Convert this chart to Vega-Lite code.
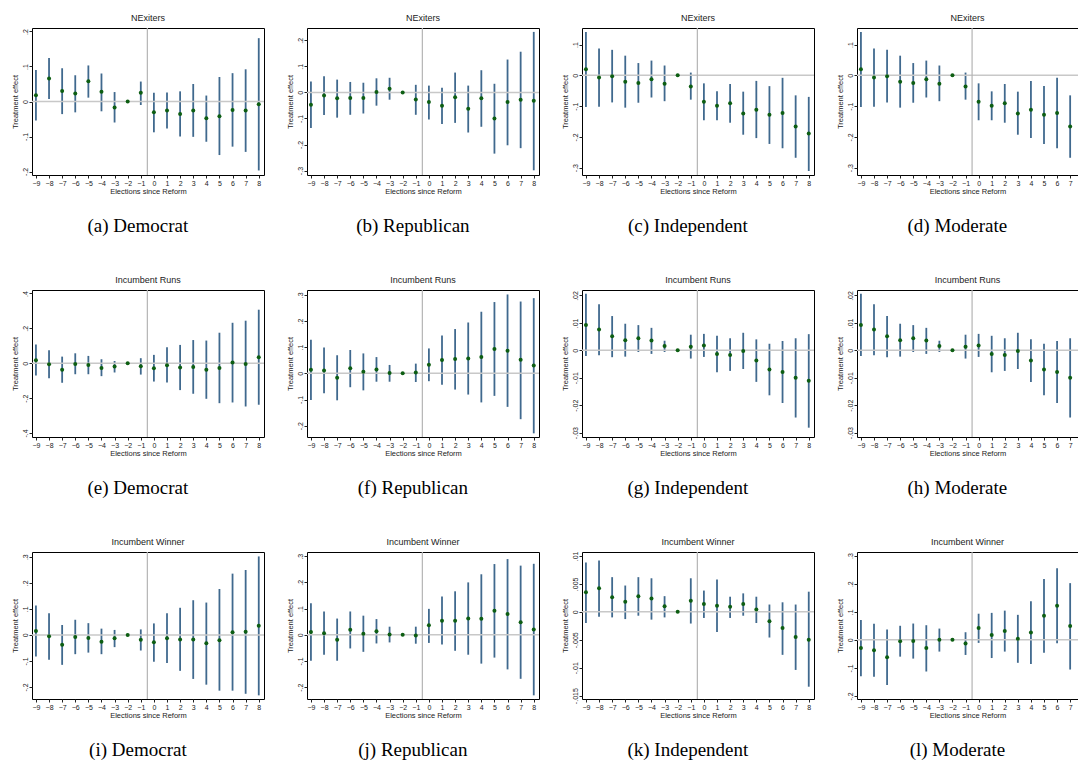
{
"$schema": "https://vega.github.io/schema/vega-lite/v6.json",
"padding": {"left": 10, "top": 13, "right": 0, "bottom": 0},
"spacing": 39,
"config": {
 "font": "Liberation Sans",
 "view": {"stroke": "#000", "strokeWidth": 1},
 "axis": {"grid": false, "domain": false, "labelFontSize": 7, "titleFontSize": 7.5, "titleFontWeight": "normal", "labelColor": "#222", "titleColor": "#222", "tickColor": "#222", "tickSize": 3, "labelPadding": 1, "titlePadding": 1, "labelFont": "Liberation Sans", "titleFont": "Liberation Sans", "labelOverlap": false, "tickCount": 50},
 "axisX": {"labelAngle": 0, "labelFlush": false},
 "axisY": {"labelAngle": 270, "titlePadding": 2},
 "title": {"fontSize": 9, "fontWeight": "normal", "color": "#222", "offset": 4, "font": "Liberation Sans"},
 "concat": {"spacing": 19}
},
"datasets": {"d": [
{"p":"a","t":-9,"b":0.018,"lo":-0.054,"hi":0.09},
{"p":"a","t":-8,"b":0.066,"lo":0.007,"hi":0.124},
{"p":"a","t":-7,"b":0.03,"lo":-0.036,"hi":0.095},
{"p":"a","t":-6,"b":0.023,"lo":-0.031,"hi":0.075},
{"p":"a","t":-5,"b":0.058,"lo":0.011,"hi":0.103},
{"p":"a","t":-4,"b":0.028,"lo":-0.028,"hi":0.08},
{"p":"a","t":-3,"b":-0.017,"lo":-0.06,"hi":0.027},
{"p":"a","t":-2,"b":0,"lo":0,"hi":0},
{"p":"a","t":-1,"b":0.025,"lo":-0.01,"hi":0.057},
{"p":"a","t":0,"b":-0.031,"lo":-0.088,"hi":0.025},
{"p":"a","t":1,"b":-0.026,"lo":-0.077,"hi":0.026},
{"p":"a","t":2,"b":-0.036,"lo":-0.1,"hi":0.029},
{"p":"a","t":3,"b":-0.026,"lo":-0.101,"hi":0.05},
{"p":"a","t":4,"b":-0.048,"lo":-0.115,"hi":0.017},
{"p":"a","t":5,"b":-0.042,"lo":-0.153,"hi":0.07},
{"p":"a","t":6,"b":-0.024,"lo":-0.129,"hi":0.081},
{"p":"a","t":7,"b":-0.026,"lo":-0.144,"hi":0.092},
{"p":"a","t":8,"b":-0.008,"lo":-0.197,"hi":0.181},
{"p":"b","t":-9,"b":-0.047,"lo":-0.137,"hi":0.042},
{"p":"b","t":-8,"b":-0.012,"lo":-0.087,"hi":0.062},
{"p":"b","t":-7,"b":-0.023,"lo":-0.097,"hi":0.049},
{"p":"b","t":-6,"b":-0.022,"lo":-0.086,"hi":0.04},
{"p":"b","t":-5,"b":-0.022,"lo":-0.081,"hi":0.037},
{"p":"b","t":-4,"b":0.001,"lo":-0.051,"hi":0.054},
{"p":"b","t":-3,"b":0.014,"lo":-0.028,"hi":0.056},
{"p":"b","t":-2,"b":0,"lo":0,"hi":0},
{"p":"b","t":-1,"b":-0.027,"lo":-0.086,"hi":0.029},
{"p":"b","t":0,"b":-0.037,"lo":-0.104,"hi":0.026},
{"p":"b","t":1,"b":-0.051,"lo":-0.121,"hi":0.018},
{"p":"b","t":2,"b":-0.019,"lo":-0.117,"hi":0.076},
{"p":"b","t":3,"b":-0.063,"lo":-0.154,"hi":0.026},
{"p":"b","t":4,"b":-0.023,"lo":-0.132,"hi":0.085},
{"p":"b","t":5,"b":-0.1,"lo":-0.235,"hi":0.033},
{"p":"b","t":6,"b":-0.037,"lo":-0.203,"hi":0.126},
{"p":"b","t":7,"b":-0.028,"lo":-0.214,"hi":0.156},
{"p":"b","t":8,"b":-0.032,"lo":-0.299,"hi":0.232},
{"p":"c","t":-9,"b":0.02,"lo":-0.103,"hi":0.141},
{"p":"c","t":-8,"b":-0.007,"lo":-0.102,"hi":0.087},
{"p":"c","t":-7,"b":-0.003,"lo":-0.088,"hi":0.083},
{"p":"c","t":-6,"b":-0.021,"lo":-0.105,"hi":0.064},
{"p":"c","t":-5,"b":-0.025,"lo":-0.089,"hi":0.04},
{"p":"c","t":-4,"b":-0.013,"lo":-0.072,"hi":0.048},
{"p":"c","t":-3,"b":-0.027,"lo":-0.084,"hi":0.032},
{"p":"c","t":-2,"b":0,"lo":0,"hi":0},
{"p":"c","t":-1,"b":-0.036,"lo":-0.079,"hi":0.009},
{"p":"c","t":0,"b":-0.086,"lo":-0.146,"hi":-0.026},
{"p":"c","t":1,"b":-0.099,"lo":-0.146,"hi":-0.052},
{"p":"c","t":2,"b":-0.091,"lo":-0.154,"hi":-0.028},
{"p":"c","t":3,"b":-0.124,"lo":-0.193,"hi":-0.053},
{"p":"c","t":4,"b":-0.112,"lo":-0.204,"hi":-0.018},
{"p":"c","t":5,"b":-0.128,"lo":-0.223,"hi":-0.035},
{"p":"c","t":6,"b":-0.122,"lo":-0.237,"hi":-0.008},
{"p":"c","t":7,"b":-0.166,"lo":-0.268,"hi":-0.065},
{"p":"c","t":8,"b":-0.189,"lo":-0.311,"hi":-0.07},
{"p":"d","t":-9,"b":0.02,"lo":-0.103,"hi":0.141},
{"p":"d","t":-8,"b":-0.007,"lo":-0.102,"hi":0.087},
{"p":"d","t":-7,"b":-0.003,"lo":-0.088,"hi":0.083},
{"p":"d","t":-6,"b":-0.021,"lo":-0.105,"hi":0.064},
{"p":"d","t":-5,"b":-0.025,"lo":-0.089,"hi":0.04},
{"p":"d","t":-4,"b":-0.013,"lo":-0.072,"hi":0.048},
{"p":"d","t":-3,"b":-0.027,"lo":-0.084,"hi":0.032},
{"p":"d","t":-2,"b":0,"lo":0,"hi":0},
{"p":"d","t":-1,"b":-0.036,"lo":-0.079,"hi":0.009},
{"p":"d","t":0,"b":-0.086,"lo":-0.146,"hi":-0.026},
{"p":"d","t":1,"b":-0.099,"lo":-0.146,"hi":-0.052},
{"p":"d","t":2,"b":-0.091,"lo":-0.154,"hi":-0.028},
{"p":"d","t":3,"b":-0.124,"lo":-0.193,"hi":-0.053},
{"p":"d","t":4,"b":-0.112,"lo":-0.204,"hi":-0.018},
{"p":"d","t":5,"b":-0.128,"lo":-0.223,"hi":-0.035},
{"p":"d","t":6,"b":-0.122,"lo":-0.237,"hi":-0.008},
{"p":"d","t":7,"b":-0.166,"lo":-0.268,"hi":-0.065},
{"p":"e","t":-9,"b":0.017,"lo":-0.07,"hi":0.107},
{"p":"e","t":-8,"b":-0.006,"lo":-0.086,"hi":0.074},
{"p":"e","t":-7,"b":-0.038,"lo":-0.112,"hi":0.038},
{"p":"e","t":-6,"b":-0.004,"lo":-0.063,"hi":0.057},
{"p":"e","t":-5,"b":-0.01,"lo":-0.063,"hi":0.042},
{"p":"e","t":-4,"b":-0.027,"lo":-0.074,"hi":0.023},
{"p":"e","t":-3,"b":-0.019,"lo":-0.053,"hi":0.013},
{"p":"e","t":-2,"b":0,"lo":0,"hi":0},
{"p":"e","t":-1,"b":-0.017,"lo":-0.065,"hi":0.029},
{"p":"e","t":0,"b":-0.029,"lo":-0.105,"hi":0.048},
{"p":"e","t":1,"b":-0.011,"lo":-0.11,"hi":0.091},
{"p":"e","t":2,"b":-0.025,"lo":-0.154,"hi":0.105},
{"p":"e","t":3,"b":-0.021,"lo":-0.175,"hi":0.133},
{"p":"e","t":4,"b":-0.038,"lo":-0.204,"hi":0.13},
{"p":"e","t":5,"b":-0.027,"lo":-0.229,"hi":0.175},
{"p":"e","t":6,"b":0.004,"lo":-0.225,"hi":0.232},
{"p":"e","t":7,"b":-0.004,"lo":-0.248,"hi":0.244},
{"p":"e","t":8,"b":0.034,"lo":-0.238,"hi":0.307},
{"p":"f","t":-9,"b":0.014,"lo":-0.102,"hi":0.128},
{"p":"f","t":-8,"b":0.011,"lo":-0.076,"hi":0.099},
{"p":"f","t":-7,"b":-0.017,"lo":-0.103,"hi":0.069},
{"p":"f","t":-6,"b":0.019,"lo":-0.053,"hi":0.089},
{"p":"f","t":-5,"b":0.006,"lo":-0.065,"hi":0.076},
{"p":"f","t":-4,"b":0.015,"lo":-0.032,"hi":0.062},
{"p":"f","t":-3,"b":0.001,"lo":-0.032,"hi":0.032},
{"p":"f","t":-2,"b":0,"lo":0,"hi":0},
{"p":"f","t":-1,"b":0.003,"lo":-0.033,"hi":0.037},
{"p":"f","t":0,"b":0.033,"lo":-0.03,"hi":0.095},
{"p":"f","t":1,"b":0.051,"lo":-0.044,"hi":0.144},
{"p":"f","t":2,"b":0.055,"lo":-0.062,"hi":0.169},
{"p":"f","t":3,"b":0.057,"lo":-0.081,"hi":0.194},
{"p":"f","t":4,"b":0.062,"lo":-0.111,"hi":0.235},
{"p":"f","t":5,"b":0.093,"lo":-0.086,"hi":0.272},
{"p":"f","t":6,"b":0.086,"lo":-0.128,"hi":0.301},
{"p":"f","t":7,"b":0.052,"lo":-0.175,"hi":0.274},
{"p":"f","t":8,"b":0.03,"lo":-0.229,"hi":0.287},
{"p":"g","t":-9,"b":0.0092,"lo":-0.0021,"hi":0.0206},
{"p":"g","t":-8,"b":0.0076,"lo":-0.0018,"hi":0.0168},
{"p":"g","t":-7,"b":0.0051,"lo":-0.0025,"hi":0.0125},
{"p":"g","t":-6,"b":0.0037,"lo":-0.0023,"hi":0.0097},
{"p":"g","t":-5,"b":0.0044,"lo":-0.0006,"hi":0.0092},
{"p":"g","t":-4,"b":0.0036,"lo":-0.0013,"hi":0.0082},
{"p":"g","t":-3,"b":0.0016,"lo":-0.0006,"hi":0.0035},
{"p":"g","t":-2,"b":0,"lo":0,"hi":0},
{"p":"g","t":-1,"b":0.0013,"lo":-0.003,"hi":0.0057},
{"p":"g","t":0,"b":0.0018,"lo":-0.0024,"hi":0.006},
{"p":"g","t":1,"b":-0.0013,"lo":-0.008,"hi":0.0053},
{"p":"g","t":2,"b":-0.0017,"lo":-0.0075,"hi":0.0044},
{"p":"g","t":3,"b":-0.0002,"lo":-0.0068,"hi":0.0064},
{"p":"g","t":4,"b":-0.0037,"lo":-0.0115,"hi":0.004},
{"p":"g","t":5,"b":-0.007,"lo":-0.0164,"hi":0.0024},
{"p":"g","t":6,"b":-0.0079,"lo":-0.0192,"hi":0.0034},
{"p":"g","t":7,"b":-0.01,"lo":-0.0245,"hi":0.0044},
{"p":"g","t":8,"b":-0.0111,"lo":-0.0282,"hi":0.0059},
{"p":"h","t":-9,"b":0.0092,"lo":-0.0021,"hi":0.0206},
{"p":"h","t":-8,"b":0.0076,"lo":-0.0018,"hi":0.0168},
{"p":"h","t":-7,"b":0.0051,"lo":-0.0025,"hi":0.0125},
{"p":"h","t":-6,"b":0.0037,"lo":-0.0023,"hi":0.0097},
{"p":"h","t":-5,"b":0.0044,"lo":-0.0006,"hi":0.0092},
{"p":"h","t":-4,"b":0.0036,"lo":-0.0013,"hi":0.0082},
{"p":"h","t":-3,"b":0.0016,"lo":-0.0006,"hi":0.0035},
{"p":"h","t":-2,"b":0,"lo":0,"hi":0},
{"p":"h","t":-1,"b":0.0013,"lo":-0.003,"hi":0.0057},
{"p":"h","t":0,"b":0.0018,"lo":-0.0024,"hi":0.006},
{"p":"h","t":1,"b":-0.0013,"lo":-0.008,"hi":0.0053},
{"p":"h","t":2,"b":-0.0017,"lo":-0.0075,"hi":0.0044},
{"p":"h","t":3,"b":-0.0002,"lo":-0.0068,"hi":0.0064},
{"p":"h","t":4,"b":-0.0037,"lo":-0.0115,"hi":0.004},
{"p":"h","t":5,"b":-0.007,"lo":-0.0164,"hi":0.0024},
{"p":"h","t":6,"b":-0.0079,"lo":-0.0192,"hi":0.0034},
{"p":"h","t":7,"b":-0.01,"lo":-0.0245,"hi":0.0044},
{"p":"i","t":-9,"b":0.015,"lo":-0.083,"hi":0.113},
{"p":"i","t":-8,"b":-0.005,"lo":-0.095,"hi":0.083},
{"p":"i","t":-7,"b":-0.038,"lo":-0.115,"hi":0.038},
{"p":"i","t":-6,"b":-0.008,"lo":-0.074,"hi":0.058},
{"p":"i","t":-5,"b":-0.012,"lo":-0.068,"hi":0.045},
{"p":"i","t":-4,"b":-0.026,"lo":-0.074,"hi":0.024},
{"p":"i","t":-3,"b":-0.013,"lo":-0.047,"hi":0.019},
{"p":"i","t":-2,"b":0,"lo":0,"hi":0},
{"p":"i","t":-1,"b":-0.019,"lo":-0.06,"hi":0.021},
{"p":"i","t":0,"b":-0.028,"lo":-0.103,"hi":0.044},
{"p":"i","t":1,"b":-0.013,"lo":-0.108,"hi":0.083},
{"p":"i","t":2,"b":-0.018,"lo":-0.138,"hi":0.104},
{"p":"i","t":3,"b":-0.018,"lo":-0.169,"hi":0.133},
{"p":"i","t":4,"b":-0.032,"lo":-0.191,"hi":0.124},
{"p":"i","t":5,"b":-0.021,"lo":-0.214,"hi":0.176},
{"p":"i","t":6,"b":0.01,"lo":-0.214,"hi":0.235},
{"p":"i","t":7,"b":0.012,"lo":-0.226,"hi":0.249},
{"p":"i","t":8,"b":0.035,"lo":-0.232,"hi":0.301},
{"p":"j","t":-9,"b":0.011,"lo":-0.099,"hi":0.12},
{"p":"j","t":-8,"b":0.006,"lo":-0.076,"hi":0.089},
{"p":"j","t":-7,"b":-0.019,"lo":-0.099,"hi":0.062},
{"p":"j","t":-6,"b":0.019,"lo":-0.052,"hi":0.089},
{"p":"j","t":-5,"b":0.004,"lo":-0.065,"hi":0.073},
{"p":"j","t":-4,"b":0.014,"lo":-0.033,"hi":0.06},
{"p":"j","t":-3,"b":0.001,"lo":-0.029,"hi":0.031},
{"p":"j","t":-2,"b":0,"lo":0,"hi":0},
{"p":"j","t":-1,"b":-0.003,"lo":-0.034,"hi":0.031},
{"p":"j","t":0,"b":0.036,"lo":-0.031,"hi":0.099},
{"p":"j","t":1,"b":0.054,"lo":-0.037,"hi":0.146},
{"p":"j","t":2,"b":0.054,"lo":-0.061,"hi":0.166},
{"p":"j","t":3,"b":0.062,"lo":-0.076,"hi":0.2},
{"p":"j","t":4,"b":0.061,"lo":-0.11,"hi":0.231},
{"p":"j","t":5,"b":0.092,"lo":-0.087,"hi":0.27},
{"p":"j","t":6,"b":0.079,"lo":-0.132,"hi":0.289},
{"p":"j","t":7,"b":0.048,"lo":-0.168,"hi":0.264},
{"p":"j","t":8,"b":0.02,"lo":-0.231,"hi":0.271},
{"p":"k","t":-9,"b":0.0035,"lo":-0.002,"hi":0.0088},
{"p":"k","t":-8,"b":0.0042,"lo":-0.0009,"hi":0.0092},
{"p":"k","t":-7,"b":0.0026,"lo":-0.001,"hi":0.0062},
{"p":"k","t":-6,"b":0.0018,"lo":-0.0013,"hi":0.0047},
{"p":"k","t":-5,"b":0.0028,"lo":-0.0007,"hi":0.0062},
{"p":"k","t":-4,"b":0.0024,"lo":-0.0014,"hi":0.006},
{"p":"k","t":-3,"b":0.001,"lo":-0.001,"hi":0.0028},
{"p":"k","t":-2,"b":0,"lo":0,"hi":0},
{"p":"k","t":-1,"b":0.002,"lo":-0.0021,"hi":0.006},
{"p":"k","t":0,"b":0.0014,"lo":-0.0011,"hi":0.0038},
{"p":"k","t":1,"b":0.0011,"lo":-0.0036,"hi":0.0058},
{"p":"k","t":2,"b":0.0009,"lo":-0.0011,"hi":0.0027},
{"p":"k","t":3,"b":0.0014,"lo":-0.0007,"hi":0.0033},
{"p":"k","t":4,"b":0.0004,"lo":-0.002,"hi":0.0027},
{"p":"k","t":5,"b":-0.0017,"lo":-0.0046,"hi":0.0013},
{"p":"k","t":6,"b":-0.0029,"lo":-0.0077,"hi":0.0017},
{"p":"k","t":7,"b":-0.0045,"lo":-0.0104,"hi":0.0013},
{"p":"k","t":8,"b":-0.005,"lo":-0.0134,"hi":0.0036},
{"p":"l","t":-9,"b":-0.029,"lo":-0.13,"hi":0.071},
{"p":"l","t":-8,"b":-0.037,"lo":-0.132,"hi":0.057},
{"p":"l","t":-7,"b":-0.062,"lo":-0.161,"hi":0.037},
{"p":"l","t":-6,"b":-0.005,"lo":-0.06,"hi":0.05},
{"p":"l","t":-5,"b":-0.004,"lo":-0.067,"hi":0.058},
{"p":"l","t":-4,"b":-0.029,"lo":-0.113,"hi":0.052},
{"p":"l","t":-3,"b":0,"lo":-0.042,"hi":0.04},
{"p":"l","t":-2,"b":0,"lo":0,"hi":0},
{"p":"l","t":-1,"b":-0.013,"lo":-0.054,"hi":0.027},
{"p":"l","t":0,"b":0.042,"lo":-0.011,"hi":0.093},
{"p":"l","t":1,"b":0.017,"lo":-0.065,"hi":0.096},
{"p":"l","t":2,"b":0.031,"lo":-0.042,"hi":0.104},
{"p":"l","t":3,"b":0.004,"lo":-0.082,"hi":0.089},
{"p":"l","t":4,"b":0.026,"lo":-0.086,"hi":0.137},
{"p":"l","t":5,"b":0.086,"lo":-0.046,"hi":0.217},
{"p":"l","t":6,"b":0.121,"lo":-0.012,"hi":0.255},
{"p":"l","t":7,"b":0.049,"lo":-0.106,"hi":0.202}
]},
"vconcat": [
{"spacing": 19, "hconcat": [
{"title": {"text": "(a) Democrat", "orient": "bottom", "anchor": "middle", "frame": "bounds", "font": "Liberation Serif", "fontSize": 19, "color": "#000", "offset": 22},
 "vconcat": [{"title": {"text": "NExiters", "frame": "group", "anchor": "middle"}, "width": 232, "height": 147,
 "layer": [
  {"data": {"name": "d"}, "transform": [{"filter": "datum.p == 'a'"}], "mark": {"type": "rule", "color": "#1f4f7a", "strokeWidth": 1.8, "opacity": 0.85},
   "encoding": {"x": {"field": "t", "type": "quantitative", "title": "Elections since Reform", "scale": {"domain": [-9.3, 8.4], "nice": false, "zero": false}, "axis": {"values": [-9,-8,-7,-6,-5,-4,-3,-2,-1,0,1,2,3,4,5,6,7,8], "format": "d", "tickCount": 50, "labelOverlap": false}},
    "y": {"field": "lo", "type": "quantitative", "title": "Treatment effect", "scale": {"domain": [-0.21, 0.21], "nice": false, "zero": false}, "axis": {"values": [-0.2,-0.1,0,0.1,0.2], "tickCount": 50, "labelOverlap": false, "labelExpr": "replace(toString(datum.value), '0.', '.')"}},
    "y2": {"field": "hi"}}},
  {"data": {"values": [{}]}, "mark": {"type": "rule", "color": "#c8c8c8", "strokeWidth": 1.5}, "encoding": {"y": {"datum": 0}}},
  {"data": {"values": [{}]}, "mark": {"type": "rule", "color": "#b4b4b4", "strokeWidth": 1.2}, "encoding": {"x": {"datum": -0.5}}},
  {"data": {"name": "d"}, "transform": [{"filter": "datum.p == 'a'"}], "mark": {"type": "point", "filled": true, "size": 16, "color": "#0d5e12", "opacity": 1},
   "encoding": {"x": {"field": "t", "type": "quantitative"}, "y": {"field": "b", "type": "quantitative"}}}
 ]}]},
{"title": {"text": "(b) Republican", "orient": "bottom", "anchor": "middle", "frame": "bounds", "font": "Liberation Serif", "fontSize": 19, "color": "#000", "offset": 22},
 "vconcat": [{"title": {"text": "NExiters", "frame": "group", "anchor": "middle"}, "width": 232, "height": 147,
 "layer": [
  {"data": {"name": "d"}, "transform": [{"filter": "datum.p == 'b'"}], "mark": {"type": "rule", "color": "#1f4f7a", "strokeWidth": 1.8, "opacity": 0.85},
   "encoding": {"x": {"field": "t", "type": "quantitative", "title": "Elections since Reform", "scale": {"domain": [-9.3, 8.4], "nice": false, "zero": false}, "axis": {"values": [-9,-8,-7,-6,-5,-4,-3,-2,-1,0,1,2,3,4,5,6,7,8], "format": "d", "tickCount": 50, "labelOverlap": false}},
    "y": {"field": "lo", "type": "quantitative", "title": "Treatment effect", "scale": {"domain": [-0.317, 0.247], "nice": false, "zero": false}, "axis": {"values": [-0.3,-0.2,-0.1,0,0.1,0.2], "tickCount": 50, "labelOverlap": false, "labelExpr": "replace(toString(datum.value), '0.', '.')"}},
    "y2": {"field": "hi"}}},
  {"data": {"values": [{}]}, "mark": {"type": "rule", "color": "#c8c8c8", "strokeWidth": 1.5}, "encoding": {"y": {"datum": 0}}},
  {"data": {"values": [{}]}, "mark": {"type": "rule", "color": "#b4b4b4", "strokeWidth": 1.2}, "encoding": {"x": {"datum": -0.5}}},
  {"data": {"name": "d"}, "transform": [{"filter": "datum.p == 'b'"}], "mark": {"type": "point", "filled": true, "size": 16, "color": "#0d5e12", "opacity": 1},
   "encoding": {"x": {"field": "t", "type": "quantitative"}, "y": {"field": "b", "type": "quantitative"}}}
 ]}]},
{"title": {"text": "(c) Independent", "orient": "bottom", "anchor": "middle", "frame": "bounds", "font": "Liberation Serif", "fontSize": 19, "color": "#000", "offset": 22},
 "vconcat": [{"title": {"text": "NExiters", "frame": "group", "anchor": "middle"}, "width": 232, "height": 147,
 "layer": [
  {"data": {"name": "d"}, "transform": [{"filter": "datum.p == 'c'"}], "mark": {"type": "rule", "color": "#1f4f7a", "strokeWidth": 1.8, "opacity": 0.85},
   "encoding": {"x": {"field": "t", "type": "quantitative", "title": "Elections since Reform", "scale": {"domain": [-9.3, 8.4], "nice": false, "zero": false}, "axis": {"values": [-9,-8,-7,-6,-5,-4,-3,-2,-1,0,1,2,3,4,5,6,7,8], "format": "d", "tickCount": 50, "labelOverlap": false}},
    "y": {"field": "lo", "type": "quantitative", "title": "Treatment effect", "scale": {"domain": [-0.324, 0.154], "nice": false, "zero": false}, "axis": {"values": [-0.3,-0.2,-0.1,0,0.1], "tickCount": 50, "labelOverlap": false, "labelExpr": "replace(toString(datum.value), '0.', '.')"}},
    "y2": {"field": "hi"}}},
  {"data": {"values": [{}]}, "mark": {"type": "rule", "color": "#c8c8c8", "strokeWidth": 1.5}, "encoding": {"y": {"datum": 0}}},
  {"data": {"values": [{}]}, "mark": {"type": "rule", "color": "#b4b4b4", "strokeWidth": 1.2}, "encoding": {"x": {"datum": -0.5}}},
  {"data": {"name": "d"}, "transform": [{"filter": "datum.p == 'c'"}], "mark": {"type": "point", "filled": true, "size": 16, "color": "#0d5e12", "opacity": 1},
   "encoding": {"x": {"field": "t", "type": "quantitative"}, "y": {"field": "b", "type": "quantitative"}}}
 ]}]},
{"title": {"text": "(d) Moderate", "orient": "bottom", "anchor": "middle", "frame": "bounds", "font": "Liberation Serif", "fontSize": 19, "color": "#000", "offset": 22},
 "vconcat": [{"title": {"text": "NExiters", "frame": "group", "anchor": "middle"}, "width": 221, "height": 147,
 "layer": [
  {"data": {"name": "d"}, "transform": [{"filter": "datum.p == 'd'"}], "mark": {"type": "rule", "color": "#1f4f7a", "strokeWidth": 1.8, "opacity": 0.85},
   "encoding": {"x": {"field": "t", "type": "quantitative", "title": "Elections since Reform", "scale": {"domain": [-9.3, 7.6], "nice": false, "zero": false}, "axis": {"values": [-9,-8,-7,-6,-5,-4,-3,-2,-1,0,1,2,3,4,5,6,7], "format": "d", "tickCount": 50, "labelOverlap": false}},
    "y": {"field": "lo", "type": "quantitative", "title": "Treatment effect", "scale": {"domain": [-0.324, 0.154], "nice": false, "zero": false}, "axis": {"values": [-0.3,-0.2,-0.1,0,0.1], "tickCount": 50, "labelOverlap": false, "labelExpr": "replace(toString(datum.value), '0.', '.')"}},
    "y2": {"field": "hi"}}},
  {"data": {"values": [{}]}, "mark": {"type": "rule", "color": "#c8c8c8", "strokeWidth": 1.5}, "encoding": {"y": {"datum": 0}}},
  {"data": {"values": [{}]}, "mark": {"type": "rule", "color": "#b4b4b4", "strokeWidth": 1.2}, "encoding": {"x": {"datum": -0.5}}},
  {"data": {"name": "d"}, "transform": [{"filter": "datum.p == 'd'"}], "mark": {"type": "point", "filled": true, "size": 16, "color": "#0d5e12", "opacity": 1},
   "encoding": {"x": {"field": "t", "type": "quantitative"}, "y": {"field": "b", "type": "quantitative"}}}
 ]}]}
]},
{"spacing": 19, "hconcat": [
{"title": {"text": "(e) Democrat", "orient": "bottom", "anchor": "middle", "frame": "bounds", "font": "Liberation Serif", "fontSize": 19, "color": "#000", "offset": 22},
 "vconcat": [{"title": {"text": "Incumbent Runs", "frame": "group", "anchor": "middle"}, "width": 232, "height": 147,
 "layer": [
  {"data": {"name": "d"}, "transform": [{"filter": "datum.p == 'e'"}], "mark": {"type": "rule", "color": "#1f4f7a", "strokeWidth": 1.8, "opacity": 0.85},
   "encoding": {"x": {"field": "t", "type": "quantitative", "title": "Elections since Reform", "scale": {"domain": [-9.3, 8.4], "nice": false, "zero": false}, "axis": {"values": [-9,-8,-7,-6,-5,-4,-3,-2,-1,0,1,2,3,4,5,6,7,8], "format": "d", "tickCount": 50, "labelOverlap": false}},
    "y": {"field": "lo", "type": "quantitative", "title": "Treatment effect", "scale": {"domain": [-0.423, 0.42], "nice": false, "zero": false}, "axis": {"values": [-0.4,-0.2,0,0.2,0.4], "tickCount": 50, "labelOverlap": false, "labelExpr": "replace(toString(datum.value), '0.', '.')"}},
    "y2": {"field": "hi"}}},
  {"data": {"values": [{}]}, "mark": {"type": "rule", "color": "#c8c8c8", "strokeWidth": 1.5}, "encoding": {"y": {"datum": 0}}},
  {"data": {"values": [{}]}, "mark": {"type": "rule", "color": "#b4b4b4", "strokeWidth": 1.2}, "encoding": {"x": {"datum": -0.5}}},
  {"data": {"name": "d"}, "transform": [{"filter": "datum.p == 'e'"}], "mark": {"type": "point", "filled": true, "size": 16, "color": "#0d5e12", "opacity": 1},
   "encoding": {"x": {"field": "t", "type": "quantitative"}, "y": {"field": "b", "type": "quantitative"}}}
 ]}]},
{"title": {"text": "(f) Republican", "orient": "bottom", "anchor": "middle", "frame": "bounds", "font": "Liberation Serif", "fontSize": 19, "color": "#000", "offset": 22},
 "vconcat": [{"title": {"text": "Incumbent Runs", "frame": "group", "anchor": "middle"}, "width": 232, "height": 147,
 "layer": [
  {"data": {"name": "d"}, "transform": [{"filter": "datum.p == 'f'"}], "mark": {"type": "rule", "color": "#1f4f7a", "strokeWidth": 1.8, "opacity": 0.85},
   "encoding": {"x": {"field": "t", "type": "quantitative", "title": "Elections since Reform", "scale": {"domain": [-9.3, 8.4], "nice": false, "zero": false}, "axis": {"values": [-9,-8,-7,-6,-5,-4,-3,-2,-1,0,1,2,3,4,5,6,7,8], "format": "d", "tickCount": 50, "labelOverlap": false}},
    "y": {"field": "lo", "type": "quantitative", "title": "Treatment effect", "scale": {"domain": [-0.243, 0.318], "nice": false, "zero": false}, "axis": {"values": [-0.2,-0.1,0,0.1,0.2,0.3], "tickCount": 50, "labelOverlap": false, "labelExpr": "replace(toString(datum.value), '0.', '.')"}},
    "y2": {"field": "hi"}}},
  {"data": {"values": [{}]}, "mark": {"type": "rule", "color": "#c8c8c8", "strokeWidth": 1.5}, "encoding": {"y": {"datum": 0}}},
  {"data": {"values": [{}]}, "mark": {"type": "rule", "color": "#b4b4b4", "strokeWidth": 1.2}, "encoding": {"x": {"datum": -0.5}}},
  {"data": {"name": "d"}, "transform": [{"filter": "datum.p == 'f'"}], "mark": {"type": "point", "filled": true, "size": 16, "color": "#0d5e12", "opacity": 1},
   "encoding": {"x": {"field": "t", "type": "quantitative"}, "y": {"field": "b", "type": "quantitative"}}}
 ]}]},
{"title": {"text": "(g) Independent", "orient": "bottom", "anchor": "middle", "frame": "bounds", "font": "Liberation Serif", "fontSize": 19, "color": "#000", "offset": 22},
 "vconcat": [{"title": {"text": "Incumbent Runs", "frame": "group", "anchor": "middle"}, "width": 232, "height": 147,
 "layer": [
  {"data": {"name": "d"}, "transform": [{"filter": "datum.p == 'g'"}], "mark": {"type": "rule", "color": "#1f4f7a", "strokeWidth": 1.8, "opacity": 0.85},
   "encoding": {"x": {"field": "t", "type": "quantitative", "title": "Elections since Reform", "scale": {"domain": [-9.3, 8.4], "nice": false, "zero": false}, "axis": {"values": [-9,-8,-7,-6,-5,-4,-3,-2,-1,0,1,2,3,4,5,6,7,8], "format": "d", "tickCount": 50, "labelOverlap": false}},
    "y": {"field": "lo", "type": "quantitative", "title": "Treatment effect", "scale": {"domain": [-0.0316, 0.022], "nice": false, "zero": false}, "axis": {"values": [-0.03,-0.02,-0.01,0,0.01,0.02], "tickCount": 50, "labelOverlap": false, "labelExpr": "replace(toString(datum.value), '0.', '.')"}},
    "y2": {"field": "hi"}}},
  {"data": {"values": [{}]}, "mark": {"type": "rule", "color": "#c8c8c8", "strokeWidth": 1.5}, "encoding": {"y": {"datum": 0}}},
  {"data": {"values": [{}]}, "mark": {"type": "rule", "color": "#b4b4b4", "strokeWidth": 1.2}, "encoding": {"x": {"datum": -0.5}}},
  {"data": {"name": "d"}, "transform": [{"filter": "datum.p == 'g'"}], "mark": {"type": "point", "filled": true, "size": 16, "color": "#0d5e12", "opacity": 1},
   "encoding": {"x": {"field": "t", "type": "quantitative"}, "y": {"field": "b", "type": "quantitative"}}}
 ]}]},
{"title": {"text": "(h) Moderate", "orient": "bottom", "anchor": "middle", "frame": "bounds", "font": "Liberation Serif", "fontSize": 19, "color": "#000", "offset": 22},
 "vconcat": [{"title": {"text": "Incumbent Runs", "frame": "group", "anchor": "middle"}, "width": 221, "height": 147,
 "layer": [
  {"data": {"name": "d"}, "transform": [{"filter": "datum.p == 'h'"}], "mark": {"type": "rule", "color": "#1f4f7a", "strokeWidth": 1.8, "opacity": 0.85},
   "encoding": {"x": {"field": "t", "type": "quantitative", "title": "Elections since Reform", "scale": {"domain": [-9.3, 7.6], "nice": false, "zero": false}, "axis": {"values": [-9,-8,-7,-6,-5,-4,-3,-2,-1,0,1,2,3,4,5,6,7], "format": "d", "tickCount": 50, "labelOverlap": false}},
    "y": {"field": "lo", "type": "quantitative", "title": "Treatment effect", "scale": {"domain": [-0.0316, 0.022], "nice": false, "zero": false}, "axis": {"values": [-0.03,-0.02,-0.01,0,0.01,0.02], "tickCount": 50, "labelOverlap": false, "labelExpr": "replace(toString(datum.value), '0.', '.')"}},
    "y2": {"field": "hi"}}},
  {"data": {"values": [{}]}, "mark": {"type": "rule", "color": "#c8c8c8", "strokeWidth": 1.5}, "encoding": {"y": {"datum": 0}}},
  {"data": {"values": [{}]}, "mark": {"type": "rule", "color": "#b4b4b4", "strokeWidth": 1.2}, "encoding": {"x": {"datum": -0.5}}},
  {"data": {"name": "d"}, "transform": [{"filter": "datum.p == 'h'"}], "mark": {"type": "point", "filled": true, "size": 16, "color": "#0d5e12", "opacity": 1},
   "encoding": {"x": {"field": "t", "type": "quantitative"}, "y": {"field": "b", "type": "quantitative"}}}
 ]}]}
]},
{"spacing": 19, "hconcat": [
{"title": {"text": "(i) Democrat", "orient": "bottom", "anchor": "middle", "frame": "bounds", "font": "Liberation Serif", "fontSize": 19, "color": "#000", "offset": 22},
 "vconcat": [{"title": {"text": "Incumbent Winner", "frame": "group", "anchor": "middle"}, "width": 232, "height": 147,
 "layer": [
  {"data": {"name": "d"}, "transform": [{"filter": "datum.p == 'i'"}], "mark": {"type": "rule", "color": "#1f4f7a", "strokeWidth": 1.8, "opacity": 0.85},
   "encoding": {"x": {"field": "t", "type": "quantitative", "title": "Elections since Reform", "scale": {"domain": [-9.3, 8.4], "nice": false, "zero": false}, "axis": {"values": [-9,-8,-7,-6,-5,-4,-3,-2,-1,0,1,2,3,4,5,6,7,8], "format": "d", "tickCount": 50, "labelOverlap": false}},
    "y": {"field": "lo", "type": "quantitative", "title": "Treatment effect", "scale": {"domain": [-0.246, 0.318], "nice": false, "zero": false}, "axis": {"values": [-0.2,-0.1,0,0.1,0.2,0.3], "tickCount": 50, "labelOverlap": false, "labelExpr": "replace(toString(datum.value), '0.', '.')"}},
    "y2": {"field": "hi"}}},
  {"data": {"values": [{}]}, "mark": {"type": "rule", "color": "#c8c8c8", "strokeWidth": 1.5}, "encoding": {"y": {"datum": 0}}},
  {"data": {"values": [{}]}, "mark": {"type": "rule", "color": "#b4b4b4", "strokeWidth": 1.2}, "encoding": {"x": {"datum": -0.5}}},
  {"data": {"name": "d"}, "transform": [{"filter": "datum.p == 'i'"}], "mark": {"type": "point", "filled": true, "size": 16, "color": "#0d5e12", "opacity": 1},
   "encoding": {"x": {"field": "t", "type": "quantitative"}, "y": {"field": "b", "type": "quantitative"}}}
 ]}]},
{"title": {"text": "(j) Republican", "orient": "bottom", "anchor": "middle", "frame": "bounds", "font": "Liberation Serif", "fontSize": 19, "color": "#000", "offset": 22},
 "vconcat": [{"title": {"text": "Incumbent Winner", "frame": "group", "anchor": "middle"}, "width": 232, "height": 147,
 "layer": [
  {"data": {"name": "d"}, "transform": [{"filter": "datum.p == 'j'"}], "mark": {"type": "rule", "color": "#1f4f7a", "strokeWidth": 1.8, "opacity": 0.85},
   "encoding": {"x": {"field": "t", "type": "quantitative", "title": "Elections since Reform", "scale": {"domain": [-9.3, 8.4], "nice": false, "zero": false}, "axis": {"values": [-9,-8,-7,-6,-5,-4,-3,-2,-1,0,1,2,3,4,5,6,7,8], "format": "d", "tickCount": 50, "labelOverlap": false}},
    "y": {"field": "lo", "type": "quantitative", "title": "Treatment effect", "scale": {"domain": [-0.245, 0.316], "nice": false, "zero": false}, "axis": {"values": [-0.2,-0.1,0,0.1,0.2,0.3], "tickCount": 50, "labelOverlap": false, "labelExpr": "replace(toString(datum.value), '0.', '.')"}},
    "y2": {"field": "hi"}}},
  {"data": {"values": [{}]}, "mark": {"type": "rule", "color": "#c8c8c8", "strokeWidth": 1.5}, "encoding": {"y": {"datum": 0}}},
  {"data": {"values": [{}]}, "mark": {"type": "rule", "color": "#b4b4b4", "strokeWidth": 1.2}, "encoding": {"x": {"datum": -0.5}}},
  {"data": {"name": "d"}, "transform": [{"filter": "datum.p == 'j'"}], "mark": {"type": "point", "filled": true, "size": 16, "color": "#0d5e12", "opacity": 1},
   "encoding": {"x": {"field": "t", "type": "quantitative"}, "y": {"field": "b", "type": "quantitative"}}}
 ]}]},
{"title": {"text": "(k) Independent", "orient": "bottom", "anchor": "middle", "frame": "bounds", "font": "Liberation Serif", "fontSize": 19, "color": "#000", "offset": 22},
 "vconcat": [{"title": {"text": "Incumbent Winner", "frame": "group", "anchor": "middle"}, "width": 232, "height": 147,
 "layer": [
  {"data": {"name": "d"}, "transform": [{"filter": "datum.p == 'k'"}], "mark": {"type": "rule", "color": "#1f4f7a", "strokeWidth": 1.8, "opacity": 0.85},
   "encoding": {"x": {"field": "t", "type": "quantitative", "title": "Elections since Reform", "scale": {"domain": [-9.3, 8.4], "nice": false, "zero": false}, "axis": {"values": [-9,-8,-7,-6,-5,-4,-3,-2,-1,0,1,2,3,4,5,6,7,8], "format": "d", "tickCount": 50, "labelOverlap": false}},
    "y": {"field": "lo", "type": "quantitative", "title": "Treatment effect", "scale": {"domain": [-0.0156, 0.0107], "nice": false, "zero": false}, "axis": {"values": [-0.015,-0.01,-0.005,0,0.005,0.01], "tickCount": 50, "labelOverlap": false, "labelExpr": "replace(toString(datum.value), '0.', '.')"}},
    "y2": {"field": "hi"}}},
  {"data": {"values": [{}]}, "mark": {"type": "rule", "color": "#c8c8c8", "strokeWidth": 1.5}, "encoding": {"y": {"datum": 0}}},
  {"data": {"values": [{}]}, "mark": {"type": "rule", "color": "#b4b4b4", "strokeWidth": 1.2}, "encoding": {"x": {"datum": -0.5}}},
  {"data": {"name": "d"}, "transform": [{"filter": "datum.p == 'k'"}], "mark": {"type": "point", "filled": true, "size": 16, "color": "#0d5e12", "opacity": 1},
   "encoding": {"x": {"field": "t", "type": "quantitative"}, "y": {"field": "b", "type": "quantitative"}}}
 ]}]},
{"title": {"text": "(l) Moderate", "orient": "bottom", "anchor": "middle", "frame": "bounds", "font": "Liberation Serif", "fontSize": 19, "color": "#000", "offset": 22},
 "vconcat": [{"title": {"text": "Incumbent Winner", "frame": "group", "anchor": "middle"}, "width": 221, "height": 147,
 "layer": [
  {"data": {"name": "d"}, "transform": [{"filter": "datum.p == 'l'"}], "mark": {"type": "rule", "color": "#1f4f7a", "strokeWidth": 1.8, "opacity": 0.85},
   "encoding": {"x": {"field": "t", "type": "quantitative", "title": "Elections since Reform", "scale": {"domain": [-9.3, 7.6], "nice": false, "zero": false}, "axis": {"values": [-9,-8,-7,-6,-5,-4,-3,-2,-1,0,1,2,3,4,5,6,7], "format": "d", "tickCount": 50, "labelOverlap": false}},
    "y": {"field": "lo", "type": "quantitative", "title": "Treatment effect", "scale": {"domain": [-0.211, 0.313], "nice": false, "zero": false}, "axis": {"values": [-0.2,-0.1,0,0.1,0.2,0.3], "tickCount": 50, "labelOverlap": false, "labelExpr": "replace(toString(datum.value), '0.', '.')"}},
    "y2": {"field": "hi"}}},
  {"data": {"values": [{}]}, "mark": {"type": "rule", "color": "#c8c8c8", "strokeWidth": 1.5}, "encoding": {"y": {"datum": 0}}},
  {"data": {"values": [{}]}, "mark": {"type": "rule", "color": "#b4b4b4", "strokeWidth": 1.2}, "encoding": {"x": {"datum": -0.5}}},
  {"data": {"name": "d"}, "transform": [{"filter": "datum.p == 'l'"}], "mark": {"type": "point", "filled": true, "size": 16, "color": "#0d5e12", "opacity": 1},
   "encoding": {"x": {"field": "t", "type": "quantitative"}, "y": {"field": "b", "type": "quantitative"}}}
 ]}]}
]}
]
}
